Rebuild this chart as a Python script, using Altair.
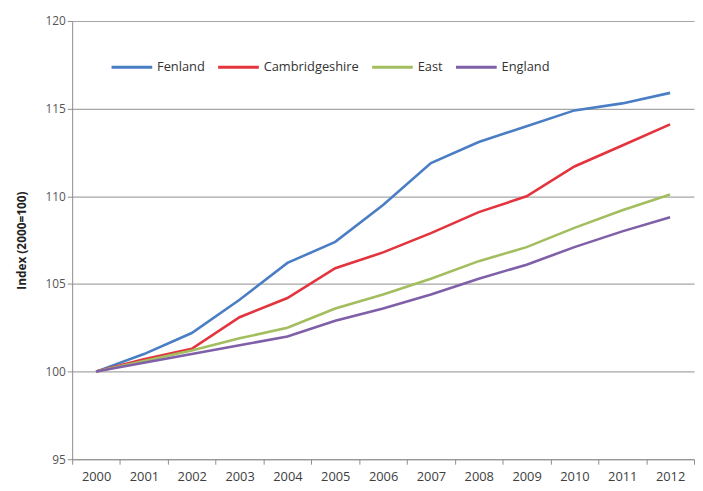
import altair as alt
import pandas as pd

years = [str(y) for y in range(2000, 2013)]
fenland = [100, 101.0, 102.2, 104.1, 106.2, 107.4, 109.5, 111.9, 113.1, 114.0, 114.9, 115.3, 115.9]
cambs = [100, 100.7, 101.3, 103.1, 104.2, 105.9, 106.8, 107.9, 109.1, 110.0, 111.7, 112.9, 114.1]
east = [100, 100.6, 101.2, 101.9, 102.5, 103.6, 104.4, 105.3, 106.3, 107.1, 108.2, 109.2, 110.1]
england = [100, 100.5, 101.0, 101.5, 102.0, 102.9, 103.6, 104.4, 105.3, 106.1, 107.1, 108.0, 108.8]
series = ["Fenland", "Cambridgeshire", "East", "England"]
colors = ["#4A7EC4", "#E3343E", "#A2BE5E", "#7F5FA8"]

rows = []
for name, vals in zip(series, [fenland, cambs, east, england]):
    for y, v in zip(years, vals):
        rows.append({"Year": y, "Series": name, "Index": v})
df = pd.DataFrame(rows)

chart = alt.Chart(df).mark_line(strokeWidth=2.6).encode(
    x=alt.X("Year:O", bandPosition=0.5,
            scale=alt.Scale(type="band", paddingInner=0, paddingOuter=0),
            axis=alt.Axis(title=None, labelAngle=0, tickBand="extent", labelColor="#404040",
                          labelFontSize=13, labelFont="Open Sans", domainColor="#8c8c8c",
                          tickColor="#8c8c8c", tickSize=5, labelPadding=7)),
    y=alt.Y("Index:Q", scale=alt.Scale(domain=[95, 120], nice=False, zero=False),
            axis=alt.Axis(values=[95, 100, 105, 110, 115, 120], title="Index (2000=100)",
                          titleFont="Open Sans", titleFontSize=12, titleFontWeight="bold",
                          titleColor="#222222", labelColor="#555555", labelFontSize=12,
                          labelFont="Open Sans", domainColor="#8c8c8c", tickColor="#8c8c8c",
                          tickSize=5, gridColor="#a6a6a6", titlePadding=17)),
    color=alt.Color("Series:N", sort=series,
                    scale=alt.Scale(domain=series, range=colors),
                    legend=alt.Legend(title=None, orient="none", legendX=38, legendY=24,
                                      direction="horizontal", columns=4, symbolType="stroke",
                                      symbolStrokeWidth=3, symbolSize=1700,
                                      labelFont="Open Sans", labelFontSize=13,
                                      labelColor="#333333", columnPadding=6, labelOffset=3)),
    order=alt.Order("Series:N"),
).properties(width=630, height=444,
             padding={"left": 7, "top": 4, "right": 0, "bottom": 5}
).configure_view(stroke=None).configure_axis(gridWidth=1.2)

chart.save("out.html", embed_options={"renderer": "svg", "actions": False})
